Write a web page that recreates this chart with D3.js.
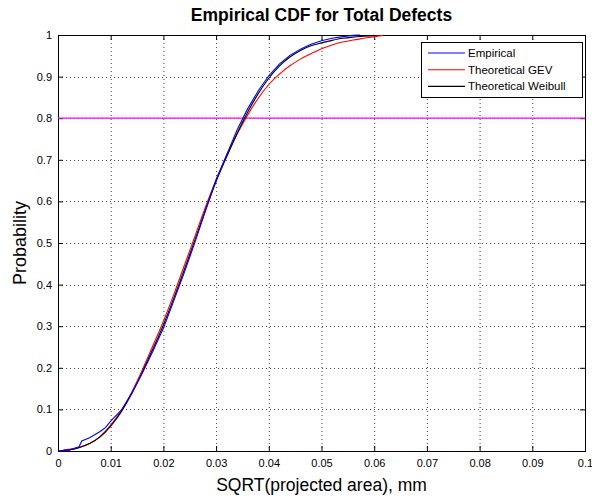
<!DOCTYPE html>
<html><head><meta charset="utf-8">
<script src="https://cdn.jsdelivr.net/npm/d3@7"></script>
<style>body{margin:0;background:#fff}svg{display:block;font-family:"Liberation Sans",Arial,sans-serif}</style>
</head><body><svg id="c" width="592" height="499"></svg>
<script>
const xTicks = [0,0.01,0.02,0.03,0.04,0.05,0.06,0.07,0.08,0.09,0.1];
const xTickLabels = ["0","0.01","0.02","0.03","0.04","0.05","0.06","0.07","0.08","0.09","0.1"];
const yTicks = [0,0.1,0.2,0.3,0.4,0.5,0.6,0.7,0.8,0.9,1];
const yTickLabels = ["0","0.1","0.2","0.3","0.4","0.5","0.6","0.7","0.8","0.9","1"];
const seriesNames = ["Empirical","Theoretical GEV","Theoretical Weibull"];
const seriesColors = ["#0000ff","#ff0000","#000000"];
const thresholdY = 0.8;

const empX = [0,0.002,0.004,0.0045,0.006,0.008,0.009,0.010,0.012,0.014,0.016,0.018,0.020,0.022,0.024,0.026,0.028,0.030,0.032,0.034,0.036,0.038,0.040,0.042,0.044,0.046,0.048,0.050,0.052,0.054,0.056,0.0573];
const empY = [0,0.002,0.010,0.024,0.032,0.047,0.056,0.072,0.098,0.138,0.187,0.240,0.295,0.362,0.430,0.502,0.578,0.652,0.712,0.772,0.823,0.866,0.902,0.930,0.951,0.966,0.978,0.986,0.992,0.996,0.999,1.0];

const gevX = [0.001,0.002,0.004,0.006,0.008,0.010,0.012,0.014,0.016,0.018,0.020,0.022,0.024,0.026,0.028,0.030,0.032,0.034,0.036,0.038,0.040,0.042,0.044,0.046,0.048,0.050,0.052,0.054,0.056,0.058,0.060,0.0617];
const gevY = [0.003,0.004,0.009,0.018,0.035,0.062,0.097,0.142,0.195,0.253,0.312,0.377,0.447,0.517,0.587,0.652,0.710,0.762,0.808,0.848,0.881,0.906,0.926,0.942,0.955,0.967,0.976,0.983,0.988,0.992,0.996,0.999];

const weiX = [0,0.002,0.004,0.006,0.008,0.010,0.012,0.014,0.016,0.018,0.020,0.022,0.024,0.026,0.028,0.030,0.032,0.034,0.036,0.038,0.040,0.042,0.044,0.046,0.048,0.050,0.052,0.054,0.056,0.058,0.060];
const weiY = [0,0.002,0.008,0.018,0.034,0.060,0.094,0.138,0.190,0.245,0.303,0.368,0.437,0.508,0.580,0.648,0.707,0.764,0.815,0.859,0.896,0.925,0.947,0.963,0.974,0.981,0.987,0.992,0.995,0.997,0.999];

const svg = d3.select("#c");
const L = 58, R = 585, T = 35, B = 451;
const x = d3.scaleLinear().domain([0,0.1]).range([L,R]);
const y = d3.scaleLinear().domain([0,1]).range([B,T]);

// grid
const g = svg.append("g");
g.selectAll(".gx").data(xTicks.slice(1,-1)).join("line")
  .attr("x1",d=>x(d)+0.5).attr("x2",d=>x(d)+0.5).attr("y1",T).attr("y2",B)
  .attr("stroke","#444").attr("stroke-width",1).attr("stroke-dasharray","1,3");
g.selectAll(".gy").data(yTicks.slice(1,-1)).join("line")
  .attr("y1",d=>Math.round(y(d))+0.5).attr("y2",d=>Math.round(y(d))+0.5).attr("x1",L).attr("x2",R)
  .attr("stroke","#444").attr("stroke-width",1).attr("stroke-dasharray","1,3");

// axes with inward ticks
const axB = d3.axisBottom(x).tickValues(xTicks).tickFormat((d,i)=>xTickLabels[i]).tickSize(-5).tickPadding(8);
const axL = d3.axisLeft(y).tickValues(yTicks).tickFormat((d,i)=>yTickLabels[i]).tickSize(-5).tickPadding(6);
const axT = d3.axisTop(x).tickValues(xTicks).tickFormat("").tickSize(-5);
const axR = d3.axisRight(y).tickValues(yTicks).tickFormat("").tickSize(-5);
function style(sel){ sel.select(".domain").remove(); sel.selectAll("line").attr("stroke","#000");
  sel.selectAll("text").attr("fill","#000").style("font-size","11px").style("font-family","'Liberation Sans',Arial,sans-serif"); }
svg.append("g").attr("transform",`translate(0,${B})`).call(axB).call(style);
svg.append("g").attr("transform",`translate(${L},0)`).call(axL).call(style);
svg.append("g").attr("transform",`translate(0,${T})`).call(axT).call(style);
svg.append("g").attr("transform",`translate(${R},0)`).call(axR).call(style);
svg.append("rect").attr("x",L+0.5).attr("y",T+0.5).attr("width",R-L).attr("height",B-T)
  .attr("fill","none").attr("stroke","#000").attr("stroke-width",1);

// threshold
svg.append("line").attr("x1",L).attr("x2",R).attr("y1",y(thresholdY)).attr("y2",y(thresholdY))
  .attr("stroke","#ff00ff").attr("stroke-width",1.2);

const lineLin = d3.line().x(d=>x(d[0])).y(d=>y(d[1]));
const lineSm = d3.line().x(d=>x(d[0])).y(d=>y(d[1])).curve(d3.curveMonotoneX);
const data = [d3.zip(empX,empY), d3.zip(gevX,gevY), d3.zip(weiX,weiY)];
[1,2,0].forEach(i=>{
  svg.append("path").attr("d",(i===0?lineLin:lineSm)(data[i])).attr("fill","none")
    .attr("stroke",seriesColors[i]).attr("stroke-width",1.1);
});

// legend
const lg = svg.append("g");
lg.append("rect").attr("x",421.5).attr("y",42.5).attr("width",161).attr("height",55)
  .attr("fill","#fff").attr("stroke","#000").attr("stroke-width",1);
seriesNames.forEach((n,i)=>{
  const yy = 53 + i*16.7;
  lg.append("line").attr("x1",428).attr("x2",465).attr("y1",yy).attr("y2",yy).attr("stroke",seriesColors[i]).attr("stroke-width",1.1);
  lg.append("text").attr("x",468).attr("y",yy).attr("dy","0.35em").text(n)
    .style("font-size","11.5px").attr("fill","#000");
});

// titles
svg.append("text").attr("x",(L+R)/2).attr("y",21).attr("text-anchor","middle")
  .style("font-size","17.5px").style("font-weight","bold").text("Empirical CDF for Total Defects");
svg.append("text").attr("x",(L+R)/2).attr("y",491).attr("text-anchor","middle")
  .style("font-size","17.5px").text("SQRT(projected area), mm");
svg.append("text").attr("transform",`translate(26,${(T+B)/2}) rotate(-90)`).attr("text-anchor","middle")
  .style("font-size","18px").text("Probability");
</script></body></html>
